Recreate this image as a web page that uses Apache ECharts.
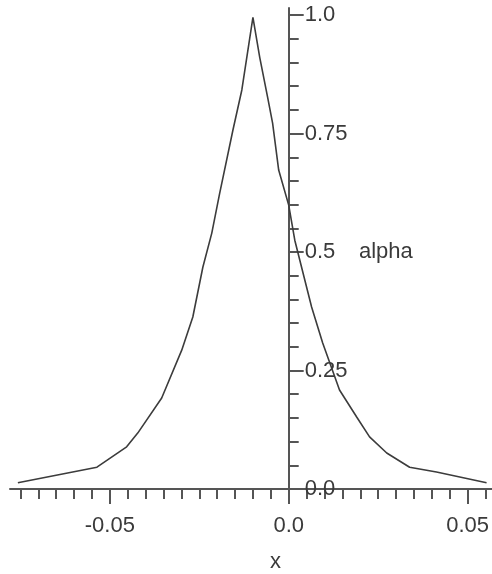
<!DOCTYPE html>
<html>
<head>
<meta charset="utf-8">
<script src="https://cdn.jsdelivr.net/npm/echarts@6/dist/echarts.min.js"></script>
<style>html,body{margin:0;padding:0;background:#fff}#c{width:492px;height:574px}</style>
</head>
<body>
<div id="c"></div>
<script>
// curve points
var xs = [-0.0757, -0.0536, -0.0453, -0.0422, -0.0355, -0.0299, -0.0268, -0.0240, -0.0215, -0.0193, -0.0156, -0.0131, -0.0100,
          -0.0081, -0.0059, -0.0045, -0.0028, 0.0000, 0.0017, 0.0036, 0.0064, 0.0095, 0.0142, 0.0190, 0.0226, 0.0274, 0.0338, 0.0413, 0.0553];
var ys = [0.013, 0.046, 0.089, 0.118, 0.192, 0.293, 0.363, 0.468, 0.540, 0.624, 0.757, 0.842, 0.995,
          0.911, 0.827, 0.772, 0.673, 0.599, 0.525, 0.468, 0.384, 0.308, 0.209, 0.152, 0.110, 0.076, 0.046, 0.036, 0.013];
var xMajorTicks = [-0.05, 0.0, 0.05];
var xMajorLabels = ['-0.05', '0.0', '0.05'];
var xMinorTicks = [-0.075, -0.07, -0.065, -0.06, -0.055, -0.045, -0.04, -0.035, -0.03, -0.025, -0.02, -0.015, -0.01, -0.005,
                   0.005, 0.01, 0.015, 0.02, 0.025, 0.03, 0.035, 0.04, 0.045, 0.055];
var yMajorTicks = [0, 0.25, 0.5, 0.75, 1.0];
var yMajorLabels = ['0.0', '0.25', '0.5', '0.75', '1.0'];
var yMinorTicks = [0.05, 0.1, 0.15, 0.2, 0.3, 0.35, 0.4, 0.45, 0.55, 0.6, 0.65, 0.7, 0.8, 0.85, 0.9, 0.95];
var xName = 'x';
var yName = 'alpha';

var X_MIN = -0.0779, X_MAX = 0.0567, Y_MIN = 0, Y_MAX = 1.015;
var FONT = 'Liberation Sans';
var AX = '#555';
var TXT = '#3a3a3a';
var chart = echarts.init(document.getElementById('c'), null, {renderer: 'canvas'});
var data = xs.map(function (x, i) { return [x, ys[i]]; });
function lab(vals, labels) {
  return function (v) {
    for (var i = 0; i < vals.length; i++) if (Math.abs(vals[i] - v) < 1e-9) return labels[i];
    return '';
  };
}
function yAxes(offset) {
  return [{
    type: 'value', min: Y_MIN, max: Y_MAX, position: 'left', offset: offset,
    axisLine: {show: true, onZero: false, lineStyle: {color: AX, width: 2}},
    axisTick: {show: true, inside: true, length: 15, customValues: yMajorTicks, lineStyle: {color: AX, width: 2}},
    axisLabel: {inside: true, customValues: yMajorTicks, formatter: lab(yMajorTicks, yMajorLabels), margin: 16,
      color: TXT, fontFamily: FONT, fontSize: 22},
    splitLine: {show: false}
  }, {
    type: 'value', min: Y_MIN, max: Y_MAX, position: 'left', offset: offset,
    axisLine: {show: false, onZero: false},
    axisTick: {show: true, inside: true, length: 10, customValues: yMinorTicks, lineStyle: {color: AX, width: 2}},
    axisLabel: {show: false},
    splitLine: {show: false}
  }];
}
chart.setOption({
  animation: false,
  grid: {left: 10, right: 0, top: 8, bottom: 85, containLabel: false},
  xAxis: [{
    type: 'value', min: X_MIN, max: X_MAX,
    axisLine: {onZero: true, lineStyle: {color: AX, width: 2}},
    axisTick: {show: true, length: 15, customValues: xMajorTicks, lineStyle: {color: AX, width: 2}},
    axisLabel: {customValues: xMajorTicks, formatter: lab(xMajorTicks, xMajorLabels), margin: 26,
      color: TXT, fontFamily: FONT, fontSize: 22},
    splitLine: {show: false}
  }, {
    type: 'value', min: X_MIN, max: X_MAX, position: 'bottom',
    axisLine: {show: false},
    axisTick: {show: true, length: 10, customValues: xMinorTicks, lineStyle: {color: AX, width: 2}},
    axisLabel: {show: false},
    splitLine: {show: false}
  }],
  yAxis: yAxes(0),
  graphic: [
    {type: 'text', left: 270, top: 551, style: {text: xName, font: '22px "Liberation Sans"', fill: TXT}},
    {type: 'text', left: 359, top: 241, style: {text: yName, font: '22px "Liberation Sans"', fill: TXT}}
  ],
  series: [{
    type: 'line', data: data, xAxisIndex: 0, yAxisIndex: 0,
    showSymbol: false, smooth: false,
    lineStyle: {color: '#3c3c3c', width: 1.6}
  }]
});
// place the y axis where x = 0, using the library's own x scale
var px0 = chart.convertToPixel({xAxisIndex: 0}, 0);
var pxMin = chart.convertToPixel({xAxisIndex: 0}, X_MIN);
chart.setOption({yAxis: yAxes(-(px0 - pxMin))});
</script>
</body>
</html>
